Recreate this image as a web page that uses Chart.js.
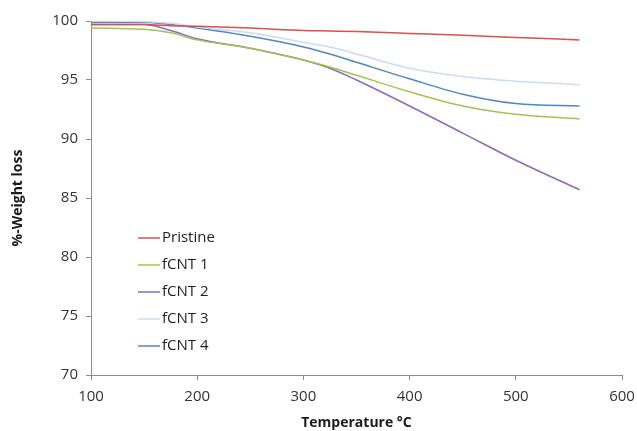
<!DOCTYPE html>
<html>
<head>
<meta charset="utf-8">
<script src="https://cdn.jsdelivr.net/npm/chart.js@4.4.0/dist/chart.umd.min.js"></script>
<style>
html,body{margin:0;padding:0;background:#fff;}
#wrap{width:637px;height:431px;position:relative;}
</style>
</head>
<body>
<div id="wrap"><canvas id="c" width="637" height="431"></canvas></div>
<script>
const temps    = [100, 150, 175, 200, 250, 300, 325, 350, 400, 450, 500, 560];
const pristine = [99.7, 99.7, 99.6, 99.55, 99.4, 99.2, 99.15, 99.1, 98.95, 98.8, 98.6, 98.4];
const fcnt1    = [99.4, 99.3, 99.0, 98.4, 97.7, 96.7, 96.1, 95.4, 94.0, 92.8, 92.1, 91.7];
const fcnt2    = [99.7, 99.7, 99.2, 98.5, 97.7, 96.7, 96.0, 95.0, 92.8, 90.5, 88.2, 85.7];
const fcnt3    = [100.0, 99.95, 99.8, 99.5, 99.0, 98.2, 97.8, 97.2, 96.0, 95.3, 94.9, 94.6];
const fcnt4    = [99.9, 99.9, 99.7, 99.4, 98.7, 97.8, 97.2, 96.5, 95.1, 93.8, 93.0, 92.8];
const seriesNames = ["Pristine", "fCNT 1", "fCNT 2", "fCNT 3", "fCNT 4"];
const seriesColors = ["#d9504c", "#a4c251", "#8a6bb8", "#c9dcf4", "#4f86c6"];
const xTitle = "Temperature \u00B0C";
const yTitle = "%-Weight loss";

const allSeries = [pristine, fcnt1, fcnt2, fcnt3, fcnt4];
const datasets = allSeries.map((vals, i) => ({
  label: seriesNames[i],
  data: temps.map((t, j) => ({x: t, y: vals[j]})),
  borderColor: seriesColors[i],
  backgroundColor: seriesColors[i],
  borderWidth: 1.5,
  pointRadius: 0,
  tension: 0.4,
  cubicInterpolationMode: 'monotone',
  fill: false
}));

const FONT = "'Open Sans', 'Liberation Sans', sans-serif";
const axisColor = '#8c8c8c';

const legendPlugin = {
  id: 'insideLegend',
  afterDraw(chart) {
    const ctx = chart.ctx;
    const ca = chart.chartArea;
    const x0 = ca.left + 47;
    const y0 = 238;
    const gap = 27;
    ctx.save();
    ctx.font = "15px " + FONT;
    ctx.textBaseline = 'middle';
    chart.data.datasets.forEach((ds, i) => {
      const y = y0 + i * gap;
      ctx.strokeStyle = ds.borderColor;
      ctx.lineWidth = 1.5;
      ctx.beginPath();
      ctx.moveTo(x0, y);
      ctx.lineTo(x0 + 22, y);
      ctx.stroke();
      ctx.fillStyle = '#1e1e1e';
      ctx.fillText(ds.label, x0 + 24, y);
    });
    ctx.restore();
  }
};

new Chart(document.getElementById('c'), {
  type: 'line',
  data: { datasets },
  plugins: [legendPlugin],
  options: {
    responsive: false,
    animation: false,
    layout: { padding: { top: 21, right: 15, left: 0, bottom: 0 } },
    plugins: { legend: { display: false }, tooltip: { enabled: false } },
    scales: {
      x: {
        type: 'linear',
        min: 100, max: 600,
        ticks: { stepSize: 100, color: '#333333', font: { family: FONT, size: 15 }, padding: 8, maxRotation: 0 },
        grid: { drawOnChartArea: false, drawTicks: true, tickLength: 5, color: axisColor },
        border: { color: axisColor, width: 1 },
        title: { display: true, text: xTitle, color: '#1a1a1a', font: { family: FONT, size: 14, weight: 'bold' }, padding: { top: 0, bottom: 0 } },
        afterFit(s) { s.height = 56; s.paddingRight = 0; s.paddingLeft = 0; }
      },
      y: {
        min: 70, max: 100,
        ticks: { stepSize: 5, color: '#333333', font: { family: FONT, size: 15 }, padding: 8 },
        grid: { drawOnChartArea: false, drawTicks: true, tickLength: 5, color: axisColor },
        border: { color: axisColor, width: 1 },
        title: { display: true, text: yTitle, color: '#1a1a1a', font: { family: FONT, size: 14, weight: 'bold' }, padding: { top: 10, bottom: 4 } },
        afterFit(s) { s.width = 91; }
      }
    }
  }
});
</script>
</body>
</html>
